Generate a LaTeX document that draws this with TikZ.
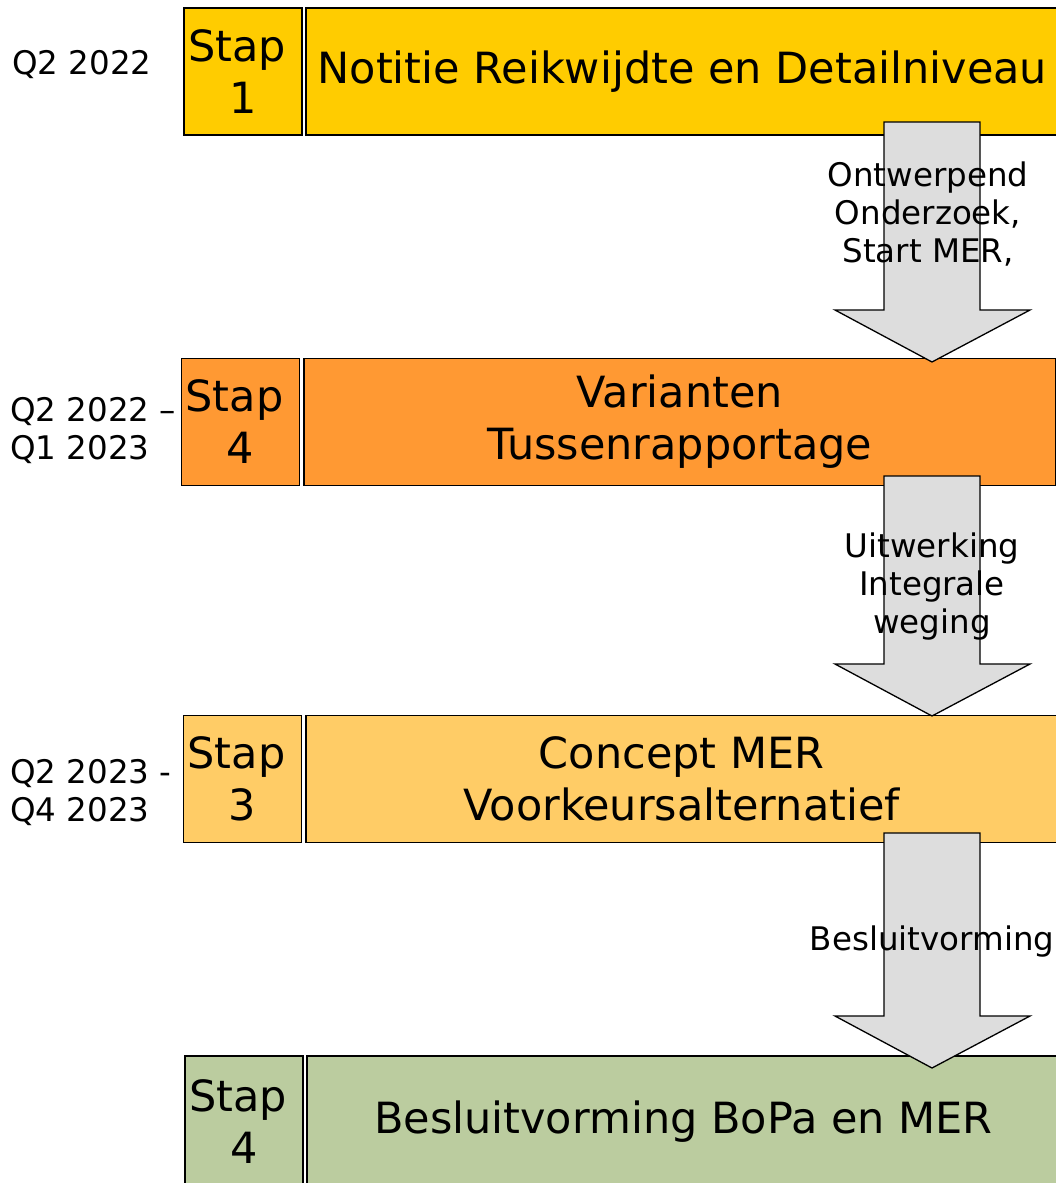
\documentclass[tikz,border=0pt]{standalone}
\usepackage{fontspec}
\setmainfont{DejaVu Sans}
\usetikzlibrary{positioning,calc}
\definecolor{stapgeel}{HTML}{FFCC00}
\definecolor{staporanje}{HTML}{FF9933}
\definecolor{staplicht}{HTML}{FFCC66}
\definecolor{stapgroen}{HTML}{BBCC9F}
\definecolor{pijlgrijs}{HTML}{DDDDDD}
\tikzset{
	x=1pt, y=-1pt, node distance=2.5pt,
	stapbox/.style={draw, line width=1.8pt, inner sep=0pt, minimum width=118pt, minimum height=127pt, align=center, font=\fontsize{43}{52}\selectfont},
	fasebox/.style={stapbox, minimum width=752pt},
	periode/.style={anchor=west, align=left, inner sep=0pt, font=\fontsize{32.5}{38}\selectfont},
	pijltekst/.style={align=center, inner sep=0pt, font=\fontsize{32.5}{38}\selectfont},
	blokpijl/.style={draw, fill=pijlgrijs, line width=1.3pt, line join=miter},
}
\newcommand{\blokpijl}[2]{%
	\draw[blokpijl] ($(#1)+(-48,0)$) -- ($(#2)+(-48,-52)$) -- ($(#2)+(-97,-52)$) -- (#2)
		-- ($(#2)+(98,-52)$) -- ($(#2)+(48,-52)$) -- ($(#1)+(48,0)$) -- cycle;}

\begin{document}
\begin{tikzpicture}
	\useasboundingbox (0,0) rectangle (1056,1183);
	\node[stapbox, fill=stapgeel] (stap1) at (243,71.5) {Stap\hspace*{12pt}\\1};
	\node[fasebox, fill=stapgeel, right=of stap1] (fase1) {Notitie Reikwijdte en Detailniveau};
	\node[stapbox, fill=staporanje] (stap2) at (240.5,422) {Stap\hspace*{12pt}\\4};
	\node[fasebox, fill=staporanje, right=of stap2] (fase2) {Varianten\\Tussenrapportage};
	\node[stapbox, fill=staplicht] (stap3) at (242.5,779) {Stap\hspace*{12pt}\\3};
	\node[fasebox, fill=staplicht, right=of stap3] (fase3) {Concept MER\\Voorkeursalternatief};
	\node[stapbox, fill=stapgroen, minimum height=131pt] (stap4) at (244,1121.5) {Stap\hspace*{12pt}\\4};
	\node[fasebox, fill=stapgroen, minimum height=131pt, right=of stap4] (fase4) {Besluitvorming BoPa en MER};

	\node[periode] (q1) at (12,65) {Q2 2022};
	\node[periode] (q2) at (10,431) {Q2 2022 --\\Q1 2023};
	\node[periode] (q3) at (10,793) {Q2 2023 -\\Q4 2023};

	\coordinate (p1top) at (932,122);  \coordinate (p1tip) at (932,362);
	\coordinate (p2top) at (932,476);  \coordinate (p2tip) at (932,716);
	\coordinate (p3top) at (932,833);  \coordinate (p3tip) at (932,1068);
	\blokpijl{p1top}{p1tip}
	\blokpijl{p2top}{p2tip}
	\blokpijl{p3top}{p3tip}

	\node[pijltekst] (t1) at (928,214) {Ontwerpend\\Onderzoek,\\Start MER,};
	\node[pijltekst] (t2) at (932,587) {Uitwerking\\Integrale\\weging};
	\node[pijltekst] (t3) at (932,942) {Besluitvorming};
\end{tikzpicture}
\end{document}
